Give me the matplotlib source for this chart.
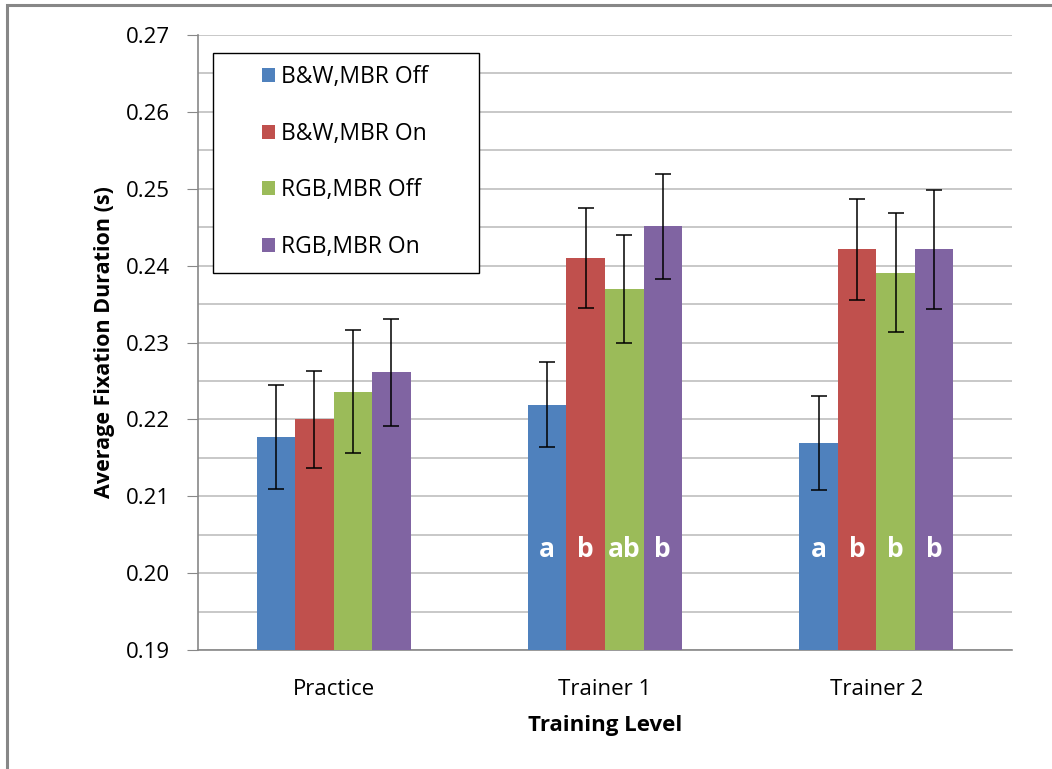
import numpy as np
import matplotlib
matplotlib.use("Agg")
import matplotlib.pyplot as plt
from matplotlib.patches import Rectangle
from matplotlib.ticker import MultipleLocator, FormatStrFormatter

plt.rcParams['font.family'] = ['Open Sans', 'DejaVu Sans']

levels = ["Practice", "Trainer 1", "Trainer 2"]
series = ["B&W,MBR Off", "B&W,MBR On", "RGB,MBR Off", "RGB,MBR On"]
colors = ["#4f81bd", "#c0504d", "#9bbb59", "#8064a2"]

bw_off = [0.2177, 0.2219, 0.2169]
bw_on = [0.2200, 0.2410, 0.2421]
rgb_off = [0.2236, 0.2370, 0.2391]
rgb_on = [0.2261, 0.2451, 0.2421]
means = [bw_off, bw_on, rgb_off, rgb_on]

err_bw_off = [0.0068, 0.0055, 0.0061]
err_bw_on = [0.0063, 0.0065, 0.0066]
err_rgb_off = [0.0080, 0.0070, 0.0077]
err_rgb_on = [0.0070, 0.0068, 0.0078]
errs = [err_bw_off, err_bw_on, err_rgb_off, err_rgb_on]

# significance letters (Practice has none)
letters = [["", "a", "a"], ["", "b", "b"], ["", "ab", "b"], ["", "b", "b"]]
letter_y = 0.2031

W, H = 1052, 769
fig = plt.figure(figsize=(W / 100, H / 100), dpi=100)
ax = fig.add_axes([198 / W, 1 - 650 / H, (1012 - 198) / W, (650 - 35) / H])

# outer chart border
fig.patches.append(Rectangle((7 / W, -0.05), 1.1, 1 - 5 / H + 0.05,
                             transform=fig.transFigure, fill=False,
                             edgecolor="#878787", linewidth=2.2, zorder=-1))

x = np.arange(len(levels))
w = 0.142
for i, (m, e, c, lab) in enumerate(zip(means, errs, colors, series)):
    pos = x + (i - 1.5) * w
    ax.bar(pos, np.array(m) - 0.19, w, bottom=0.19, color=c, label=lab, zorder=3)
    ax.errorbar(pos, m, yerr=e, fmt="none", ecolor="black", elinewidth=1.1,
                capsize=6, capthick=1.1, zorder=4)
    for p, t in zip(pos, letters[i]):
        if t:
            ax.text(p, letter_y, t, color="white", fontsize=19, fontweight="bold",
                    ha="center", va="center", zorder=5)

ax.set_xlim(-0.5, 2.5)
ax.set_ylim(0.19, 0.27)
ax.yaxis.set_major_locator(MultipleLocator(0.01))
ax.yaxis.set_minor_locator(MultipleLocator(0.005))
ax.yaxis.set_major_formatter(FormatStrFormatter("%.2f"))
ax.grid(True, axis="y", which="both", color="#bfbfbf", linewidth=1.2, zorder=0)
ax.set_axisbelow(True)
ax.set_xticks(x)
ax.set_xticklabels(levels)
ax.tick_params(axis="x", length=0, labelsize=16, pad=21)
ax.tick_params(axis="y", which="major", length=8, color="#888888", labelsize=16, pad=12)
ax.tick_params(axis="y", which="minor", length=0)
for s in ["top", "right"]:
    ax.spines[s].set_visible(False)
for s in ["left", "bottom"]:
    ax.spines[s].set_color("#888888")
    ax.spines[s].set_linewidth(1.2)

ax.set_ylabel("Average Fixation Duration (s)", fontsize=15.5, fontweight="bold", labelpad=8)
ax.set_xlabel("Training Level", fontsize=16, fontweight="bold", labelpad=11)

# legend box drawn by hand, entries placed inside it
box = Rectangle((213 / W, 1 - 273 / H), (479 - 213) / W, (273 - 53) / H,
                transform=fig.transFigure, facecolor="white",
                edgecolor="black", linewidth=1.0, zorder=5, clip_on=False)
ax.add_patch(box)
leg = ax.legend(loc="center left", bbox_to_anchor=(262 / W, 1 - 162 / H),
                bbox_transform=fig.transFigure, fontsize=16.5, frameon=False,
                handlelength=0.55, handleheight=0.55, handletextpad=0.3,
                labelspacing=1.42, borderpad=0, borderaxespad=0)
leg.set_zorder(6)

fig.savefig("out.png", dpi=100, facecolor="white")
